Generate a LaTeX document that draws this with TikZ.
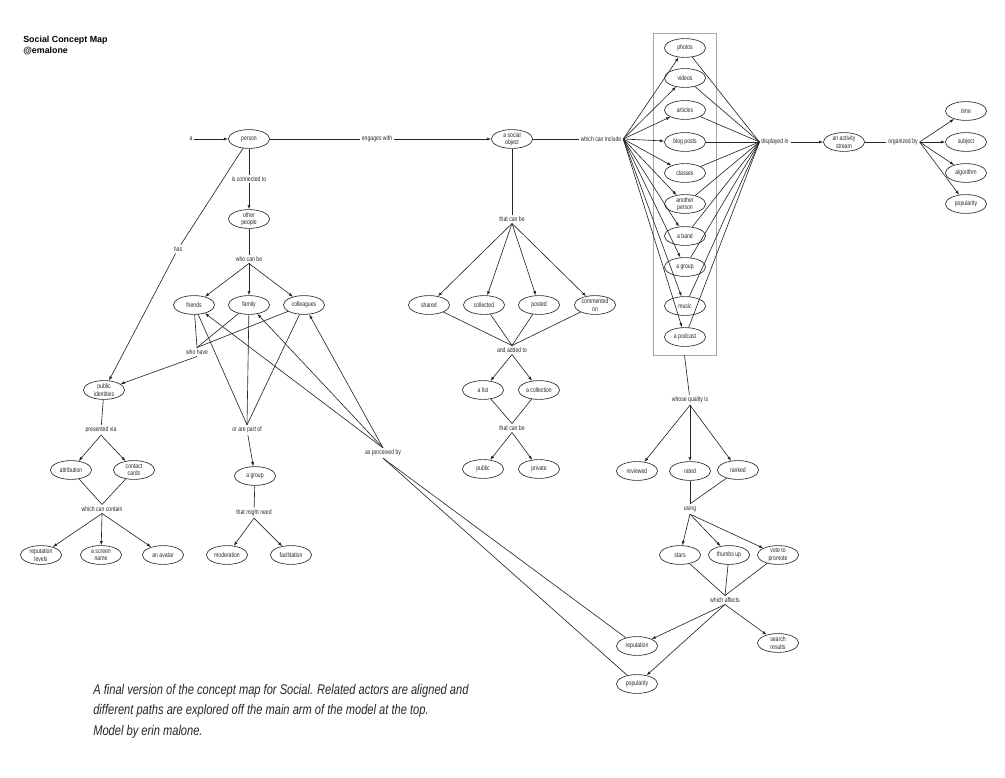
\documentclass[tikz,border=0pt]{standalone}
\usepackage{fontspec}
\setmainfont{Liberation Sans}
\newfontfamily\mapfont[FakeStretch=0.76]{Liberation Sans}
\newfontfamily\notefont[FakeStretch=0.79]{Liberation Sans}
\usetikzlibrary{arrows.meta, shapes.geometric}

\begin{document}
\begin{tikzpicture}[x=0.025cm, y=-0.025cm, line width=0.45pt, draw=black!85,
    >={Latex[length=3pt,width=2.2pt]},
    concept/.style={ellipse, draw, minimum width=1.03cm, minimum height=0.47cm,
      inner xsep=-1.5pt, inner ysep=-2pt, align=center, text=black!85,
      font=\mapfont\fontsize{4.8}{5.1}\selectfont},
    phrase/.style={inner sep=1.2pt, align=center, text=black!85,
      font=\mapfont\fontsize{4.8}{5.1}\selectfont}]
  \useasboundingbox (0,0) rectangle (1005,777);

  % heading and caption
  \node[anchor=north west, align=left, inner sep=0pt,
    font=\bfseries\fontsize{6.3}{7.6}\selectfont] (title) at (23,36)
    {Social Concept Map\\@emalone};
  \node[anchor=north west, align=left, inner sep=0pt, text=black!85,
    font=\notefont\itshape\fontsize{10}{14.4}\selectfont] (caption) at (93,684)
    {A final version of the concept map for Social. Related actors are aligned and\\
     different paths are explored off the main arm of the model at the top.\\
     Model by erin malone.};

  % main arm
  \node[phrase] (a) at (191,139) {a};
  \node[concept] (person) at (249,139) {person};
  \node[phrase] (engages) at (377,139) {engages with};
  \node[concept] (sobject) at (512,139) {a social\\object};
  \node[phrase] (include) at (601,139) {which can include};
  \node[draw=black!35, minimum width=1.575cm, minimum height=8.05cm, inner sep=0pt]
    (box) at (684.5,194) {};
  \foreach \name/\txt/\y in {photos/photos/48, videos/videos/78,
      articles/articles/110, blog/blog posts/142, classes/classes/173,
      another/{another\\person}/204, band/a band/236, groupitem/a group/267,
      music/music/306, podcast/a podcast/337}
    \node[concept] (\name) at (685,\y) {\txt};
  \node[phrase] (display) at (775,142) {displayed in};
  \node[concept] (stream) at (844,142) {an activity\\stream};
  \node[phrase] (organized) at (903,142) {organized by};
  \node[concept] (time) at (966,111) {time};
  \node[concept] (subject) at (966,142) {subject};
  \node[concept] (algorithm) at (966,173) {algorithm};
  \node[concept] (popular) at (966,204) {popularity};

  \draw[->] (a) -- (person);
  \draw (person) -- (engages);
  \draw[->] (engages) -- (sobject);
  \draw (sobject) -- (include);
  \foreach \name in {photos, videos, articles, blog, classes, another, band,
      groupitem, music, podcast} {
    \draw[->] (include.east) -- (\name);
    \draw (\name) -- (display.west);
  }
  \draw[->] (display) -- (stream);
  \draw (stream) -- (organized);
  \foreach \name in {time, subject, algorithm, popular}
    \draw[->] (organized.east) -- (\name);

  % quality branch
  \node[phrase] (quality) at (690,400) {whose quality is};
  \node[concept] (reviewed) at (637,471) {reviewed};
  \node[concept] (rated) at (690,471) {rated};
  \node[concept] (ranked) at (738,470) {ranked};
  \node[phrase] (using) at (690,509) {using};
  \node[concept] (stars) at (680,555) {stars};
  \node[concept] (thumbs) at (729,555) {thumbs up};
  \node[concept] (vote) at (778,555) {vote to\\promote};
  \node[phrase] (affects) at (725,600) {which affects};
  \node[concept] (reputation) at (637,646) {reputation};
  \node[concept] (search) at (778,643) {search\\results};
  \node[concept] (popularity) at (637,684) {popularity};

  \draw (box.south) -- (quality);
  \foreach \name in {reviewed, rated, ranked}
    \draw[->] (quality.south) -- (\name);
  \foreach \name in {rated, ranked}
    \draw (\name) -- (using.north);
  \foreach \name in {stars, thumbs, vote} {
    \draw[->] (using.south) -- (\name);
    \draw (\name) -- (affects.north);
  }
  \foreach \name in {reputation, popularity, search}
    \draw[->] (affects.south) -- (\name);

  % people branch
  \node[phrase] (conn) at (249,179) {is connected to};
  \node[concept] (other) at (249,219) {other\\people};
  \node[phrase] (whocan) at (249,259) {who can be};
  \node[concept] (friends) at (194,305) {friends};
  \node[concept] (family) at (249,305) {family};
  \node[concept] (colleagues) at (304,305) {colleagues};
  \node[phrase] (whohave) at (197,352) {who have};
  \node[phrase] (partof) at (247,430) {or are part of};
  \node[phrase] (perceived) at (383,453) {as perceived by};
  \node[concept] (group) at (255,476) {a group};
  \node[phrase] (mightneed) at (254,513) {that might need};
  \node[concept] (moderation) at (227,555) {moderation};
  \node[concept] (facilitation) at (291,555) {facilitation};

  \draw (person) -- (conn);
  \draw[->] (conn) -- (other);
  \draw (other) -- (whocan);
  \foreach \name in {friends, family, colleagues} {
    \draw[->] (whocan.south) -- (\name);
    \draw (\name) -- (whohave.north);
    \draw (\name) -- (partof.north);
    \draw[->] (perceived.north) -- (\name);
  }
  \draw (reputation) -- (perceived.south);
  \draw (popularity) -- (perceived.south);
  \draw[->] (partof) -- (group);
  \draw (group) -- (mightneed);
  \draw[->] (mightneed.south) -- (moderation);
  \draw[->] (mightneed.south) -- (facilitation);

  % identity branch
  \node[phrase] (has) at (178,249) {has};
  \node[concept] (pubid) at (104,390) {public\\identities};
  \node[phrase] (via) at (101,430) {presented via};
  \node[concept] (attribution) at (71,470) {attribution};
  \node[concept] (contact) at (134,470) {contact\\cards};
  \node[phrase] (contain) at (102,509) {which can contain};
  \node[concept] (replevels) at (41,555) {reputation\\levels};
  \node[concept] (screen) at (101,555) {a screen\\name};
  \node[concept] (avatar) at (163,555) {an avatar};

  \draw (person) -- (has);
  \draw[->] (has) -- (pubid);
  \draw[->] (whohave.south) -- (pubid);
  \draw (pubid) -- (via);
  \foreach \name in {attribution, contact} {
    \draw[->] (via.south) -- (\name);
    \draw (\name) -- (contain.north);
  }
  \foreach \name in {replevels, screen, avatar}
    \draw[->] (contain.south) -- (\name);

  % object branch
  \node[phrase] (canbeA) at (512,219) {that can be};
  \node[concept] (shared) at (429,305) {shared};
  \node[concept] (collected) at (484,305) {collected};
  \node[concept] (posted) at (539,305) {posted};
  \node[concept] (commented) at (595,305) {commented\\on};
  \node[phrase] (added) at (512,350) {and added to};
  \node[concept] (alist) at (483,390) {a list};
  \node[concept] (acoll) at (539,390) {a collection};
  \node[phrase] (canbeB) at (512,428) {that can be};
  \node[concept] (public) at (483,469) {public};
  \node[concept] (private) at (539,469) {private};

  \draw (sobject) -- (canbeA);
  \foreach \name in {shared, collected, posted, commented} {
    \draw[->] (canbeA.south) -- (\name);
    \draw (\name) -- (added.north);
  }
  \foreach \name in {alist, acoll} {
    \draw[->] (added.south) -- (\name);
    \draw (\name) -- (canbeB.north);
  }
  \draw[->] (canbeB.south) -- (public);
  \draw[->] (canbeB.south) -- (private);
\end{tikzpicture}
\end{document}
